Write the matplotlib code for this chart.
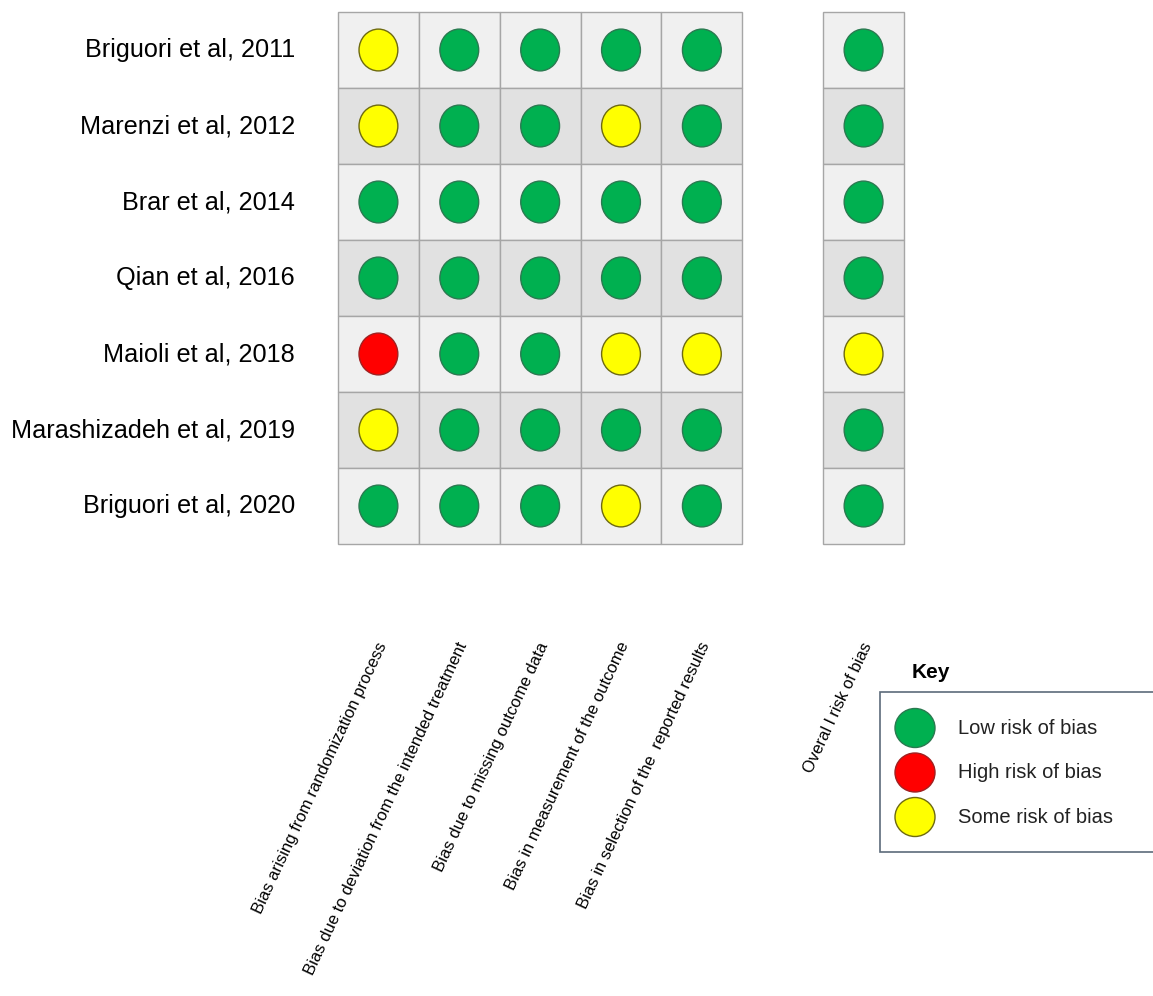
import matplotlib.pyplot as plt
from matplotlib.patches import Rectangle, Ellipse

plt.rcParams['font.family'] = ['Liberation Sans', 'DejaVu Sans']

studies = ['Briguori et al, 2011', 'Marenzi et al, 2012', 'Brar et al, 2014',
           'Qian et al, 2016', 'Maioli et al, 2018', 'Marashizadeh et al, 2019',
           'Briguori et al, 2020']
domains = ['Bias arising from randomization process',
           'Bias due to deviation from the intended treatment',
           'Bias due to missing outcome data',
           'Bias in measurement of the outcome',
           'Bias in selection of the  reported results']
overall_label = 'Overal l risk of bias'

# L = low, H = high, S = some concerns; one row per study, one entry per domain
judgements = [['S', 'L', 'L', 'L', 'L'],
              ['S', 'L', 'L', 'S', 'L'],
              ['L', 'L', 'L', 'L', 'L'],
              ['L', 'L', 'L', 'L', 'L'],
              ['H', 'L', 'L', 'S', 'S'],
              ['S', 'L', 'L', 'L', 'L'],
              ['L', 'L', 'L', 'S', 'L']]
overall = ['L', 'L', 'L', 'L', 'S', 'L', 'L']

key_codes = ['L', 'H', 'S']
key_labels = ['Low risk of bias', 'High risk of bias', 'Some risk of bias']

fill = {'L': '#00b050', 'H': '#ff0000', 'S': '#ffff00'}
edge = {'L': '#2a7a50', 'H': '#a02020', 'S': '#6e6a10'}

W, H = 1153, 996
fig = plt.figure(figsize=(W / 100, H / 100), dpi=100)

# grid: 5 domain columns, an empty gap column, then the overall column
ax = fig.add_axes([338 / W, 1 - 544 / H, 566 / W, 532 / H])
ax.set_xlim(0, 7)
ax.set_ylim(len(studies), 0)
ax.axis('off')

cols = list(range(len(domains))) + [6]
for i, name in enumerate(studies):
    shade = '#f0f0f0' if i % 2 == 0 else '#e1e1e1'
    row = judgements[i] + [overall[i]]
    for c, val in zip(cols, row):
        ax.add_patch(Rectangle((c, i), 1, 1, facecolor=shade,
                               edgecolor='#a6a6a6', linewidth=1, clip_on=False))
        ax.add_patch(Ellipse((c + 0.5, i + 0.5), 0.48, 0.55,
                             facecolor=fill[val], edgecolor=edge[val], linewidth=1))
    ax.text(-0.53, i + 0.5, name, ha='right', va='center', fontsize=18.2)

for c, lab in zip(cols, domains + [overall_label]):
    ax.text(c + 0.55, 8.3, lab, rotation=65, rotation_mode='anchor',
            ha='right', va='center', fontsize=12, clip_on=False)

# key box
kax = fig.add_axes([880 / W, 1 - 852 / H, 273 / W, 160 / H])
kax.set_xlim(0, 273)
kax.set_ylim(160, 0)
kax.axis('off')
kax.add_patch(Rectangle((0, 0), 300, 160, facecolor='white',
                        edgecolor='#5c6b7a', linewidth=1.2, clip_on=False))
for j, (code, lab) in enumerate(zip(key_codes, key_labels)):
    y = 36 + j * 44.5
    kax.add_patch(Ellipse((35, y), 40, 39, facecolor=fill[code],
                          edgecolor=edge[code], linewidth=1))
    kax.text(78, y, lab, ha='left', va='center', fontsize=14.5, color='#222222')
fig.text(912 / W, 1 - 673 / H, 'Key', fontsize=15, fontweight='bold',
         ha='left', va='center')

fig.savefig('out.png', dpi=100)
